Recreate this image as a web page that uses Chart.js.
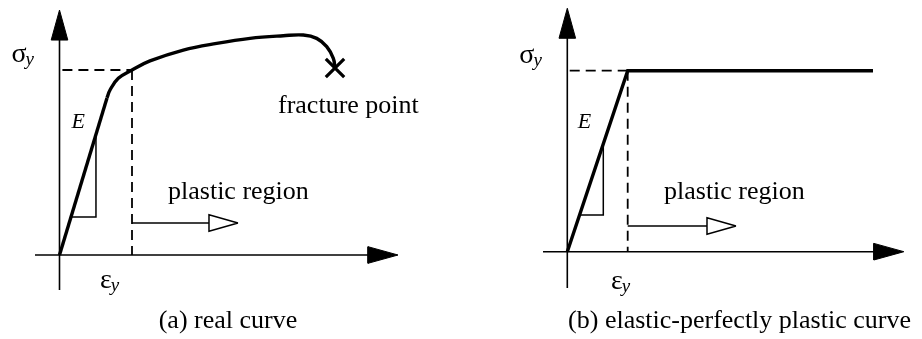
<!DOCTYPE html>
<html>
<head>
<meta charset="utf-8">
<script src="https://cdn.jsdelivr.net/npm/chart.js@4.4.1/dist/chart.umd.min.js"></script>
<style>
  html, body { margin: 0; padding: 0; background: #fff; }
  #wrap { display: flex; width: 922px; height: 339px; }
  canvas { display: block; }
</style>
</head>
<body>
<div id="wrap">
  <canvas id="realChart" width="461" height="339"></canvas>
  <canvas id="idealChart" width="461" height="339"></canvas>
</div>
<script>
// strain is in units of eps_y, stress in units of sigma_y
const realElasticStrain = [0, 0.655];
const realElasticStress = [0, 0.849];
const realPlasticStrain = [0.655, 0.697, 0.811, 1.0, 1.248, 1.708, 2.168, 2.628, 3.087, 3.363, 3.548, 3.686, 3.777, 3.80];
const realPlasticStress = [0.849, 0.892, 0.955, 1.0, 1.049, 1.108, 1.144, 1.171, 1.185, 1.189, 1.171, 1.126, 1.063, 1.011];
const fracturePoint = [3.80, 1.011];

const idealStrain = [0, 1, 5.061];
const idealStress = [0, 1, 1];

const yieldStrain = 1;
const yieldStress = 1;

// little slope triangles under the elastic line
const realSlopeStrain = [0.158, 0.503, 0.503];
const realSlopeStress = [0.205, 0.205, 0.652];
const idealSlopeStrain = [0.203, 0.596, 0.596];
const idealSlopeStress = [0.203, 0.203, 0.596];

// axis extents [from, to]
const realAxisX = [-0.338, 4.669];
const realAxisY = [-0.189, 1.324];
const idealAxisX = [-0.402, 5.572];
const idealAxisY = [-0.2, 1.345];

// "plastic region" arrows: [startStrain, tipStrain, level]
const realPlasticArrow = [1.0, 2.462, 0.173];
const idealPlasticArrow = [1.0, 2.793, 0.142];

const SERIF = '"Liberation Serif", "Times New Roman", serif';

const pts = (xs, ys) => xs.map((x, i) => ({ x, y: ys[i] }));

function head(tipX, tipY, dir, len, half, ux, uy) {
  if (dir === 'right') {
    return [
      { x: tipX, y: tipY },
      { x: tipX - len / ux, y: tipY + half / uy },
      { x: tipX - len / ux, y: tipY - half / uy },
      { x: tipX, y: tipY }
    ];
  }
  return [
    { x: tipX, y: tipY },
    { x: tipX - half / ux, y: tipY - len / uy },
    { x: tipX + half / ux, y: tipY - len / uy },
    { x: tipX, y: tipY }
  ];
}

function line(data, width, extra) {
  return Object.assign({
    data,
    borderColor: '#000',
    borderWidth: width,
    pointRadius: 0,
    tension: 0,
    fill: false
  }, extra || {});
}

function axesSets(ax, ay, ux, uy) {
  return [
    line([{ x: ax[0], y: 0 }, { x: ax[1] - 20 / ux, y: 0 }], 1.6),
    line([{ x: 0, y: ay[0] }, { x: 0, y: ay[1] - 20 / uy }], 1.6),
    line(head(ax[1], 0, 'right', 30, 8.3, ux, uy), 1, { fill: 'shape', backgroundColor: '#000' }),
    line(head(0, ay[1], 'up', 30, 8.3, ux, uy), 1, { fill: 'shape', backgroundColor: '#000' })
  ];
}

function yieldGuides() {
  return [
    line([{ x: 0.04, y: yieldStress }, { x: yieldStrain, y: yieldStress }], 1.8, { borderDash: [10, 6] }),
    line([{ x: yieldStrain, y: yieldStress }, { x: yieldStrain, y: 0 }], 1.8, { borderDash: [10, 6] })
  ];
}

function plasticArrow(a, ux, uy) {
  const headLen = 29;
  return [
    line([{ x: a[0], y: a[2] }, { x: a[1] - headLen / ux, y: a[2] }], 1.5),
    line(head(a[1], a[2], 'right', headLen, 8.3, ux, uy), 1.5, { fill: 'shape', backgroundColor: '#fff' })
  ];
}

// text drawn at strain/stress positions through the chart scales
function labelPlugin(labels) {
  return {
    id: 'curveLabels',
    afterDatasetsDraw(chart) {
      const { ctx, scales } = chart;
      ctx.save();
      ctx.fillStyle = '#000';
      ctx.textBaseline = 'alphabetic';
      labels.forEach(l => {
        const px = scales.x.getPixelForValue(l.x);
        const py = scales.y.getPixelForValue(l.y);
        ctx.font = l.font;
        ctx.textAlign = l.align || 'left';
        ctx.fillText(l.text, px, py);
        if (l.sub) {
          const w = ctx.measureText(l.text).width;
          ctx.font = 'italic 19px ' + SERIF;
          ctx.textAlign = 'left';
          ctx.fillText(l.sub, px + w - 1, py + 3);
        }
      });
      ctx.restore();
    }
  };
}

function makeChart(id, panel, datasets, labels) {
  const W = 461, H = 339;
  const [ox, oy] = panel.origin;
  const [ux, uy] = panel.unit;
  return new Chart(document.getElementById(id), {
    type: 'line',
    data: { datasets },
    options: {
      responsive: false,
      animation: false,
      events: [],
      layout: { padding: 0, autoPadding: false },
      scales: {
        x: { type: 'linear', display: false, bounds: 'data', min: -ox / ux, max: (W - ox) / ux },
        y: { type: 'linear', display: false, bounds: 'data', min: -(H - oy) / uy, max: oy / uy }
      },
      plugins: { legend: { display: false }, tooltip: { enabled: false } }
    },
    plugins: [labelPlugin(labels)]
  });
}

const big = '26px ' + SERIF;
const greek = '28px ' + SERIF;
const italicE = 'italic 22px ' + SERIF;

// (a) real curve
const panelA = { origin: [59.5, 255], unit: [72.5, 185] };
makeChart('realChart', panelA, [
  ...yieldGuides(),
  ...axesSets(realAxisX, realAxisY, 72.5, 185),
  line(pts(realSlopeStrain, realSlopeStress), 1.5),
  line(pts(realElasticStrain, realElasticStress), 3.4),
  line(pts(realPlasticStrain, realPlasticStress), 3.4, { tension: 0.4 }),
  line([{ x: fracturePoint[0], y: fracturePoint[1] }], 3.2, {
    showLine: false, pointStyle: 'crossRot', pointRadius: 13, pointBorderWidth: 3.2, pointBorderColor: '#000'
  }),
  ...plasticArrow(realPlasticArrow, 72.5, 185)
], [
  { text: 'σ', sub: 'y', x: -0.662, y: 1.043, font: greek },
  { text: 'ε', sub: 'y', x: 0.559, y: -0.178, font: greek },
  { text: 'E', x: 0.166, y: 0.686, font: italicE },
  { text: 'fracture point', x: 3.014, y: 0.768, font: big },
  { text: 'plastic region', x: 1.497, y: 0.303, font: big },
  { text: '(a) real curve', x: 2.324, y: -0.395, font: big, align: 'center' }
]);

// (b) elastic-perfectly plastic curve
const panelB = { origin: [106.3, 251.7], unit: [60.4, 181] };
makeChart('idealChart', panelB, [
  ...yieldGuides(),
  ...axesSets(idealAxisX, idealAxisY, 60.4, 181),
  line(pts(idealSlopeStrain, idealSlopeStress), 1.5),
  line(pts(idealStrain, idealStress), 3.4),
  ...plasticArrow(idealPlasticArrow, 60.4, 181)
], [
  { text: 'σ', sub: 'y', x: -0.795, y: 1.043, font: greek },
  { text: 'ε', sub: 'y', x: 0.723, y: -0.206, font: greek },
  { text: 'E', x: 0.172, y: 0.683, font: italicE },
  { text: 'plastic region', x: 1.601, y: 0.291, font: big },
  { text: '(b) elastic-perfectly plastic curve', x: 2.851, y: -0.421, font: big, align: 'center' }
]);
</script>
</body>
</html>
